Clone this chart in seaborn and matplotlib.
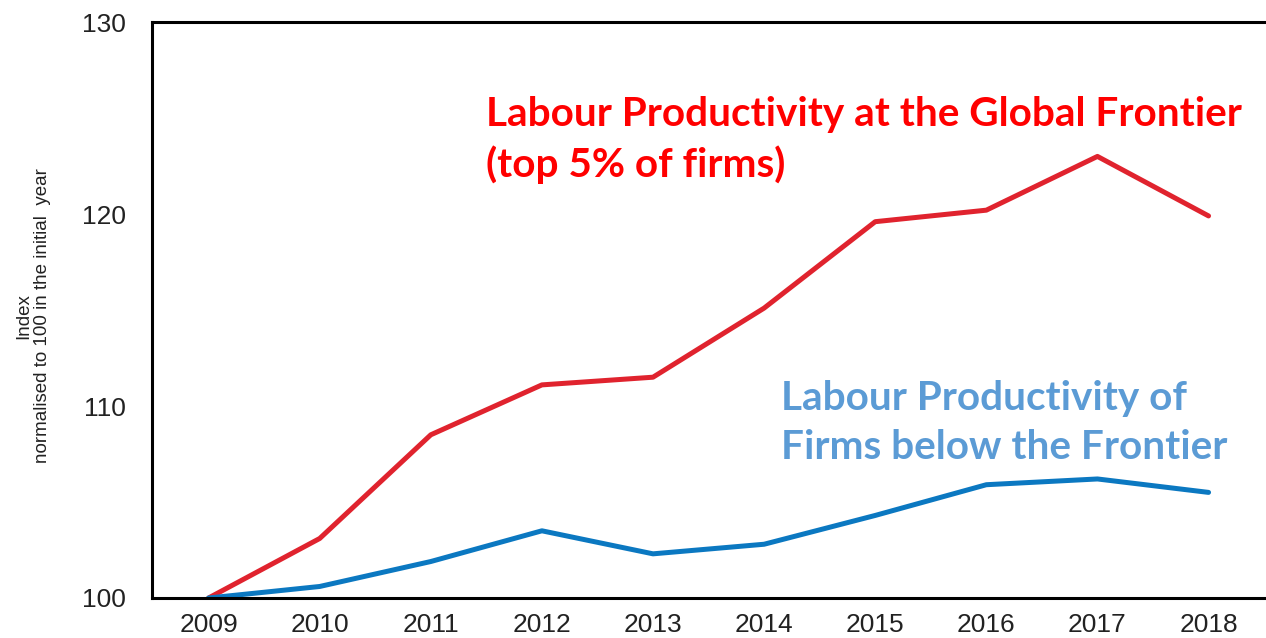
import numpy as np
import pandas as pd
import matplotlib
matplotlib.use("Agg")
import matplotlib.pyplot as plt
import seaborn as sns

# Data (index, 2009 = 100)
years = [2009, 2010, 2011, 2012, 2013, 2014, 2015, 2016, 2017, 2018]
frontier = [100.0, 103.1, 108.5, 111.1, 111.5, 115.1, 119.6, 120.2, 123.0, 119.9]
non_frontier = [100.0, 100.6, 101.9, 103.5, 102.3, 102.8, 104.3, 105.9, 106.2, 105.5]

yticks = [100, 110, 120, 130]

sns.set_theme(style="white")
plt.rcParams['font.family'] = ['Liberation Sans', 'DejaVu Sans']

df = pd.DataFrame({"year": years, "frontier": frontier, "non_frontier": non_frontier})

fig = plt.figure(figsize=(12.66, 6.38), dpi=100)
ax = fig.add_axes([0.12, 0.0627, 0.8785, 0.9028])

sns.lineplot(data=df, x="year", y="frontier", color="#E0232E", linewidth=3.6, ax=ax)
sns.lineplot(data=df, x="year", y="non_frontier", color="#0B78C1", linewidth=3.6, ax=ax)

ax.set_xlim(2008.49, 2018.5)
ax.set_ylim(100, 130)
ax.set_xticks(years)
ax.set_yticks(yticks)
ax.tick_params(axis="both", labelsize=19, colors="#222222", length=0)
ax.tick_params(axis="x", pad=11)
ax.tick_params(axis="y", pad=19)
ax.set_xlabel("")
ax.set_ylabel("Index\nnormalised to 100 in the initial  year", fontsize=13.5,
              color="#222222", linespacing=1.1)
ax.yaxis.set_label_coords(-0.091, 0.49)

for side in ["left", "top", "bottom"]:
    ax.spines[side].set_color("black")
    ax.spines[side].set_linewidth(2.2)
ax.spines["right"].set_visible(False)

ax.text(2011.5, 123.85, "Labour Productivity at the Global Frontier\n(top 5% of firms)",
        color="#FF0000", fontsize=29.2, fontweight="bold", family=["Lato", "DejaVu Sans"],
        va="center", ha="left", linespacing=1.4)
ax.text(2014.15, 109.1, "Labour Productivity of\nFirms below the Frontier",
        color="#5B9BD5", fontsize=29.2, fontweight="bold", family=["Lato", "DejaVu Sans"],
        va="center", ha="left", linespacing=1.4)

fig.savefig("out.png", dpi=100)
